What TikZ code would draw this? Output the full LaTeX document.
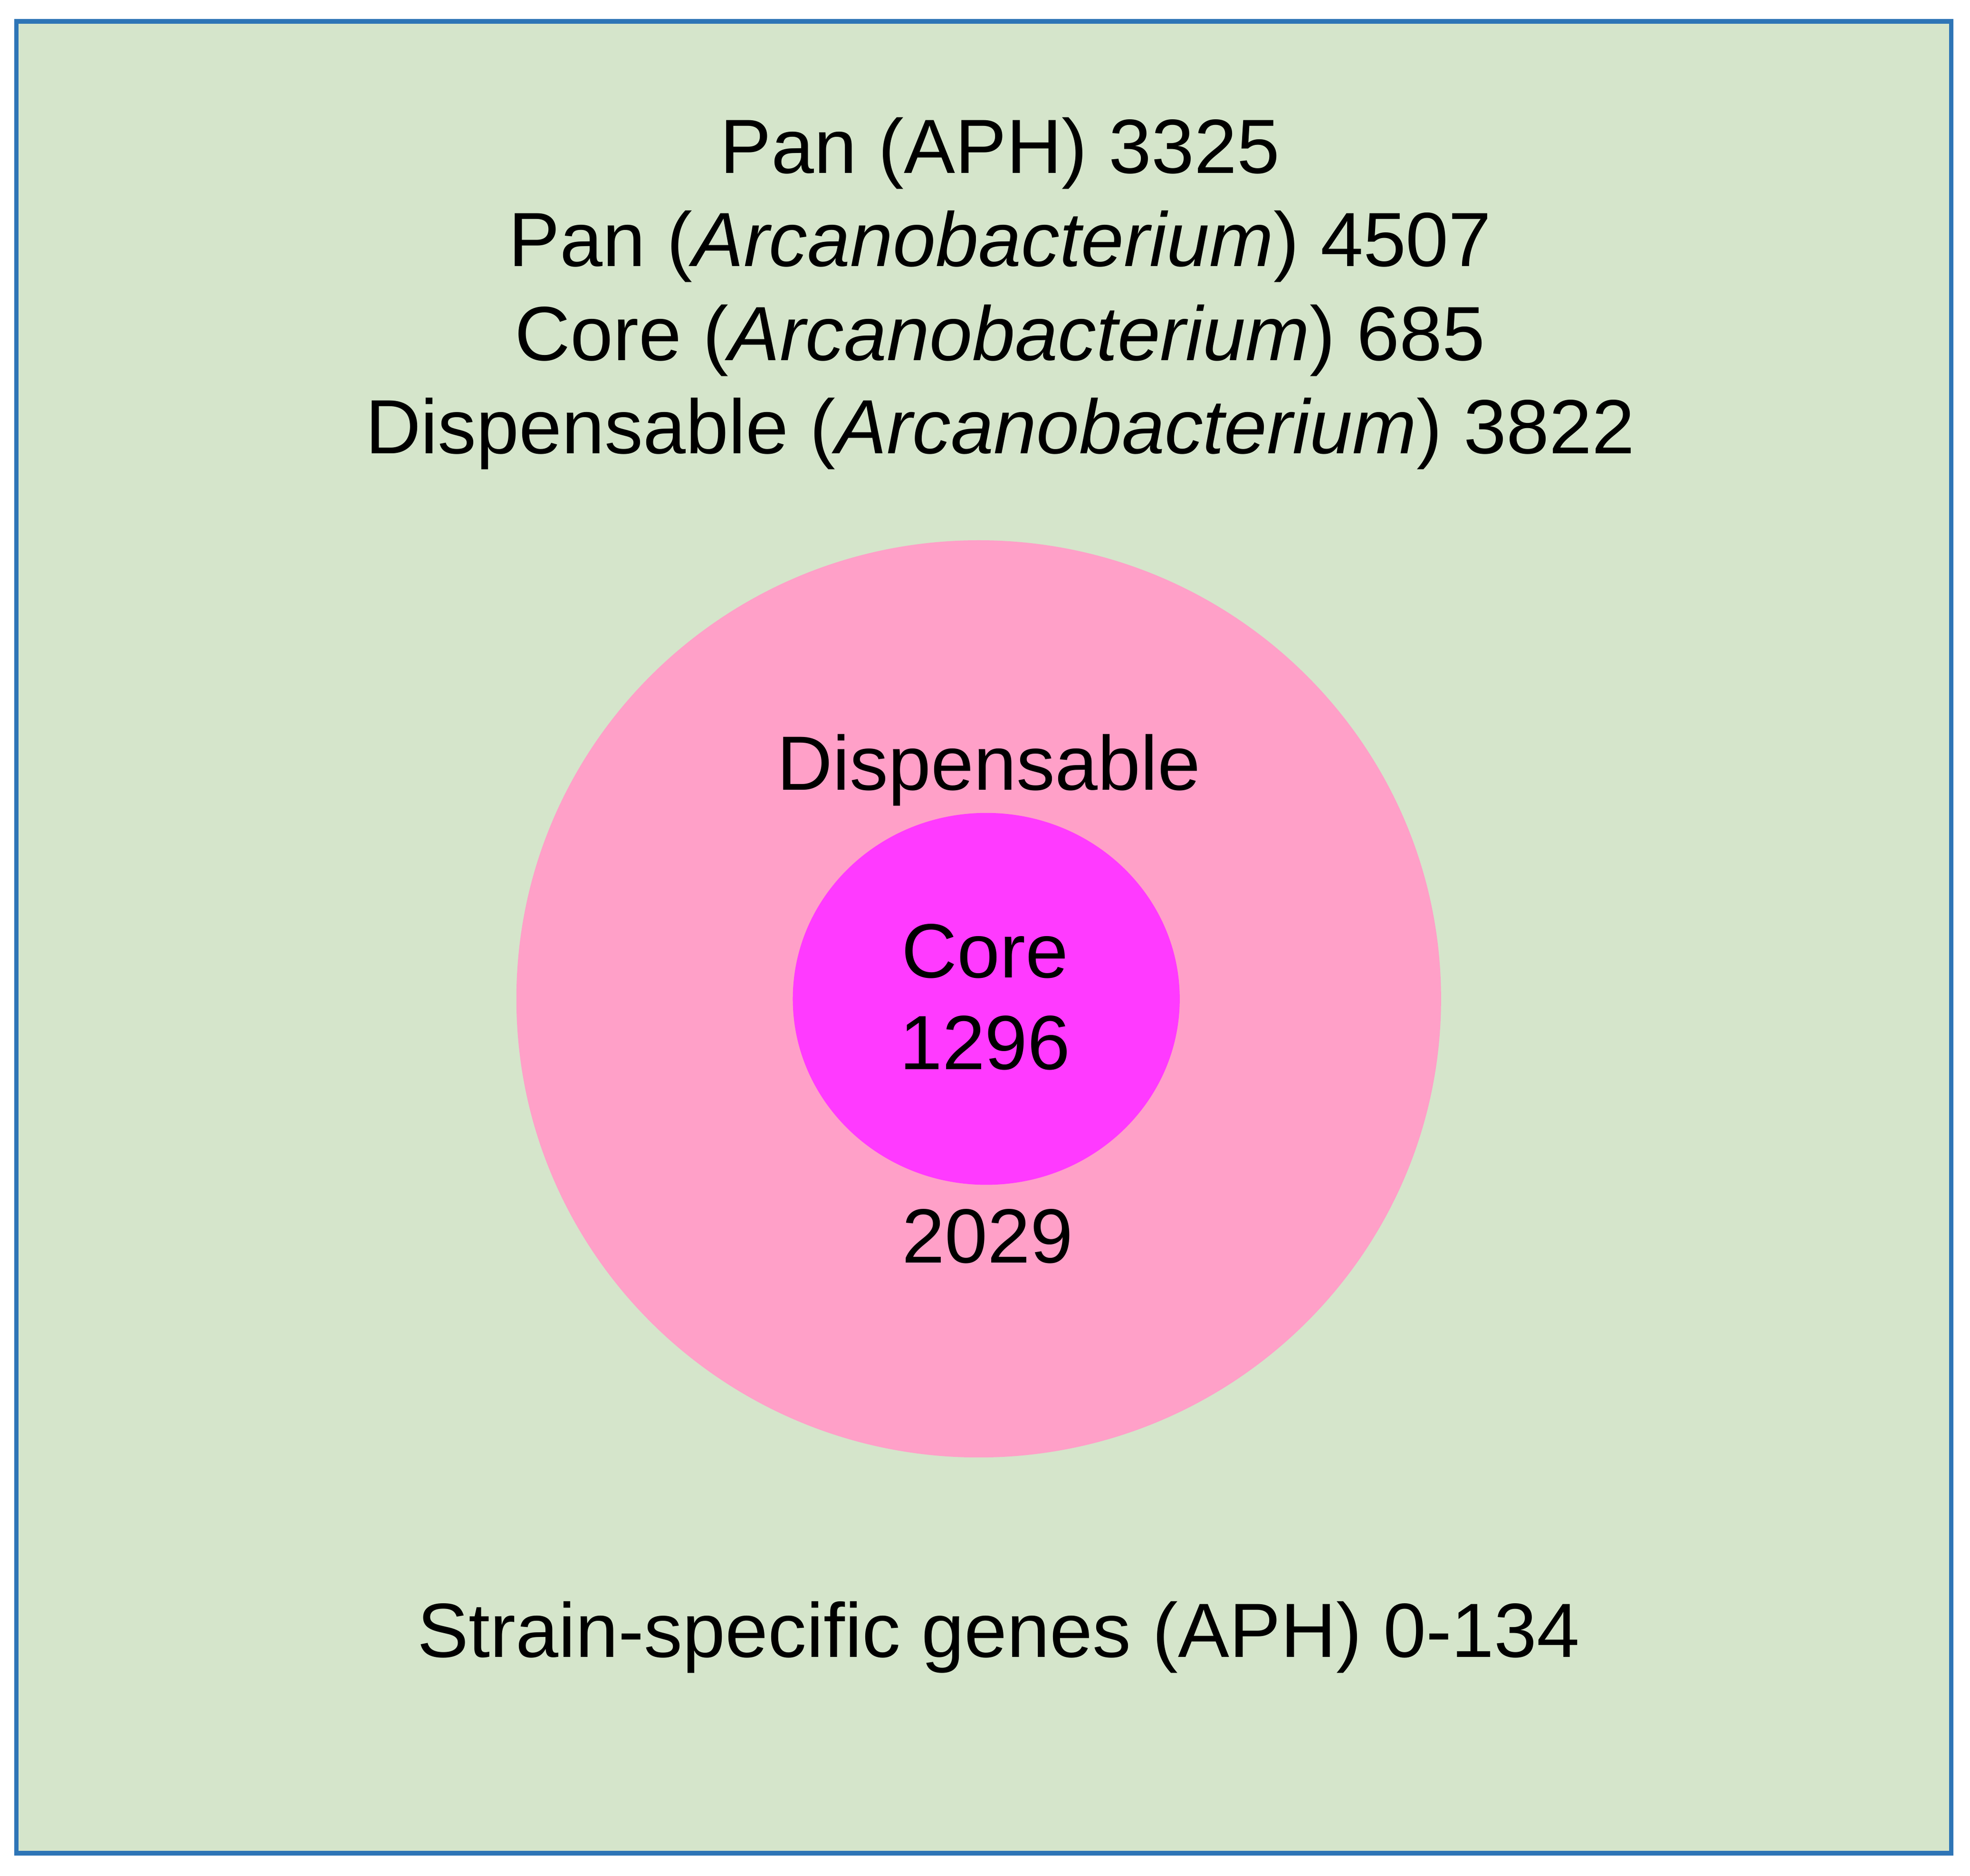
\documentclass[tikz,border=0pt]{standalone}
\usepackage{fontspec}
\setmainfont{Liberation Sans}
\definecolor{bg}{RGB}{213,229,203}
\definecolor{frame}{RGB}{46,117,182}
\definecolor{outer}{RGB}{255,160,200}
\definecolor{inner}{RGB}{255,58,255}
\begin{document}
\begin{tikzpicture}[x=0.5pt,y=-0.5pt,
  lbl/.style={font=\fontsize{30.6}{36}\selectfont, text=black, inner sep=0pt, anchor=center}]
\useasboundingbox (0,0) rectangle (1568,1493);
\draw[fill=bg, draw=frame, line width=1.8pt] (13,17) rectangle (1553,1475);
\fill[outer] (779,795) ellipse [x radius=368, y radius=365];
\fill[inner] (785,795) ellipse [x radius=154, y radius=148];
\node[lbl] (l1) at (796,122) {Pan (APH) 3325};
\node[lbl] (l2) at (796,196) {Pan (\textit{Arcanobacterium}) 4507};
\node[lbl] (l3) at (796,271) {Core (\textit{Arcanobacterium}) 685};
\node[lbl] (l4) at (796,345) {Dispensable (\textit{Arcanobacterium}) 3822};
\node[lbl] (d) at (787,613) {Dispensable};
\node[lbl] (c) at (784,757) {Core};
\node[lbl] (cn) at (784,830) {1296};
\node[lbl] (dn) at (786,984) {2029};
\node[lbl] (s) at (795,1303) {Strain-specific genes (APH) 0-134};
\end{tikzpicture}
\end{document}
